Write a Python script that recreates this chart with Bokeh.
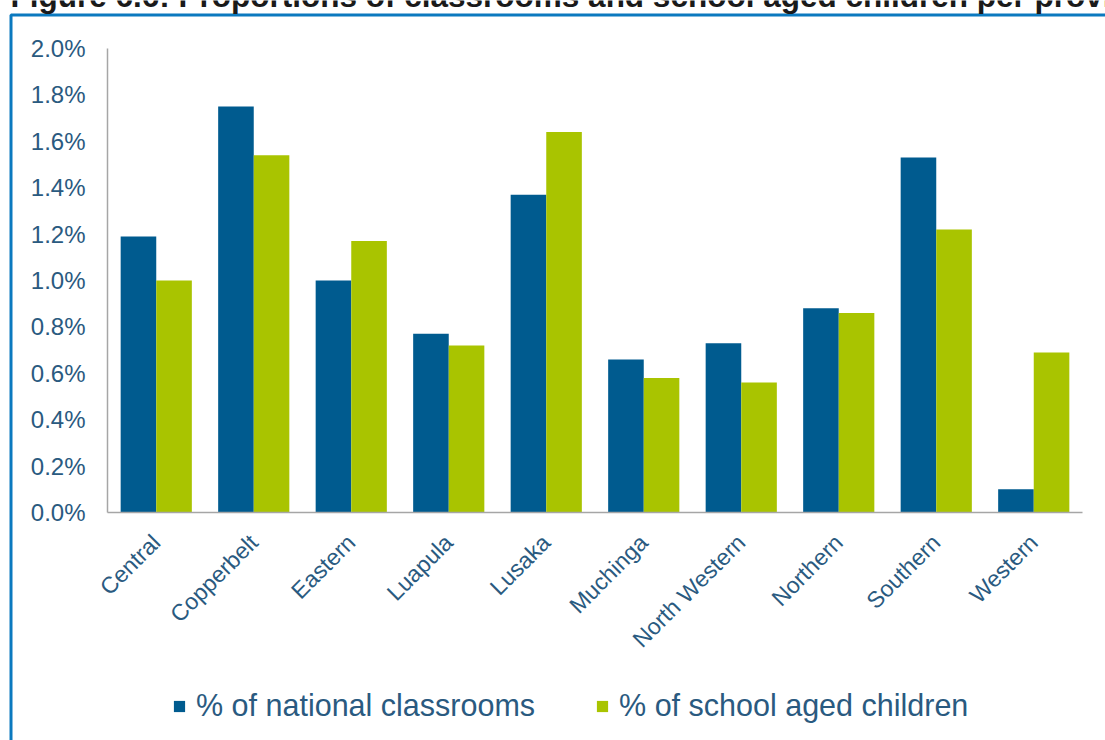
from bokeh.plotting import figure
from bokeh.models import (ColumnDataSource, Range1d, Legend, LegendItem, LinearAxis,
                          NumeralTickFormatter, Label, BoxAnnotation, FixedTicker)
from bokeh.embed import file_html
from bokeh.resources import INLINE

provinces = ["Central", "Copperbelt", "Eastern", "Luapula", "Lusaka", "Muchinga",
             "North Western", "Northern", "Southern", "Western"]
classrooms = [1.19, 1.75, 1.00, 0.77, 1.37, 0.66, 0.73, 0.88, 1.53, 0.10]
children = [1.00, 1.54, 1.17, 0.72, 1.64, 0.58, 0.56, 0.86, 1.22, 0.69]
series_names = ["% of national classrooms", "% of school aged children"]
y_ticks = [0.0, 0.2, 0.4, 0.6, 0.8, 1.0, 1.2, 1.4, 1.6, 1.8, 2.0]
title_text = "Figure 6.6: Proportions of classrooms and school aged children per province"

BLUE = "#005B8F"
GREEN = "#A9C400"
TXT = "#2A5A80"
FONT = "Liberation Sans"

W, H = 1105, 740
# plot area in pixels (inside the whole canvas frame)
PL, PR, PT, PB = 107, 1082, 48, 512
n = len(provinces)
cat_px = (PR - PL) / n
ymax = 0.02
ypx = (PB - PT) / ymax

centers = [i + 0.5 for i in range(n)]
src = ColumnDataSource(dict(xc=[c - 0.1825 for c in centers],
                            xg=[c + 0.1825 for c in centers],
                            cls=[v / 100 for v in classrooms],
                            chl=[v / 100 for v in children]))

p = figure(width=W, height=H,
           x_range=Range1d(-PL / cat_px, n + (W - PR) / cat_px),
           y_range=Range1d(-(H - PB) / ypx, ymax + PT / ypx),
           x_axis_location=None, y_axis_location=None,
           output_backend="svg", toolbar_location=None, min_border=0)

r1 = p.vbar(x="xc", top="cls", width=0.365, source=src, fill_color=BLUE, line_color=None)
r2 = p.vbar(x="xg", top="chl", width=0.365, source=src, fill_color=GREEN, line_color=None)

p.outline_line_color = None
p.xgrid.grid_line_color = None
p.ygrid.grid_line_color = None

xaxis = LinearAxis(fixed_location=0, bounds=(0, n),
                   ticker=FixedTicker(ticks=centers),
                   major_label_overrides={c: name for c, name in zip(centers, provinces)})
yaxis = LinearAxis(fixed_location=0, bounds=(0, ymax),
                   ticker=FixedTicker(ticks=[t / 100 for t in y_ticks]),
                   formatter=NumeralTickFormatter(format="0.0%"))
for ax in (xaxis, yaxis):
    ax.axis_line_color = "#A6A6A6"
    ax.axis_line_width = 1.5
    ax.major_tick_line_color = None
    ax.minor_tick_line_color = None
    ax.major_label_text_font = FONT
    ax.major_label_text_color = TXT
xaxis.major_label_text_font_size = "23px"
yaxis.major_label_text_font_size = "24px"
yaxis.major_label_standoff = 16
xaxis.major_label_standoff = 20
xaxis.major_label_orientation = 0.785398
p.add_layout(xaxis, "below")
p.add_layout(yaxis, "left")

legend = Legend(items=[LegendItem(label=series_names[0], renderers=[r1]),
                       LegendItem(label=series_names[1], renderers=[r2])],
                orientation="horizontal", location=(172, 17),
                label_text_font=FONT, label_text_font_size="30.5px", label_text_color=TXT,
                glyph_width=14, glyph_height=14, label_standoff=10, spacing=60,
                padding=0, margin=0, border_line_color=None, background_fill_alpha=0)
p.add_layout(legend, "center")

# outer blue border of the (cropped) chart box
p.add_layout(BoxAnnotation(left=10.5, right=W + 50, top=H - 14.5, bottom=-50,
                           left_units="screen", right_units="screen",
                           top_units="screen", bottom_units="screen",
                           fill_alpha=0, line_color="#0B79BF", line_alpha=1.0,
                           line_width=3))

p.add_layout(Label(x=10, y=H + 5, x_units="screen", y_units="screen", text=title_text,
                   text_font=FONT, text_font_style="bold", text_font_size="31.5px",
                   text_color="#1A1A1A", text_baseline="alphabetic"))

open("out.html", "w").write(file_html(p, INLINE))
